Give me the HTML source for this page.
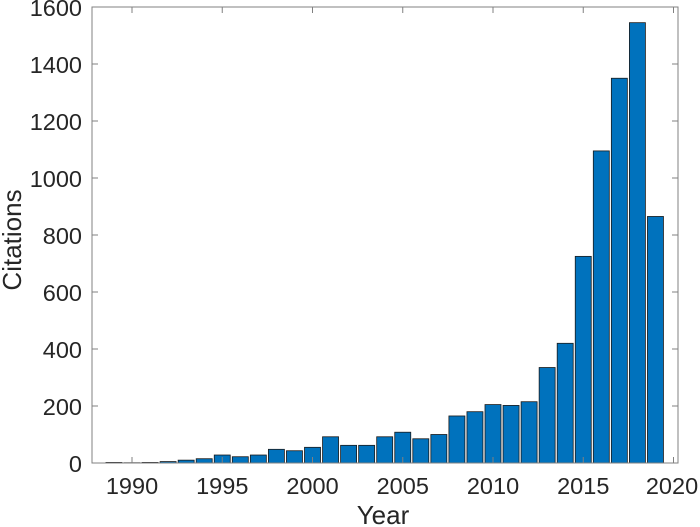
<!DOCTYPE html>
<html><head><meta charset="utf-8"><style>html,body{margin:0;padding:0;background:#fff}svg{display:block}</style></head>
<body>
<svg width="700" height="527" xmlns="http://www.w3.org/2000/svg" font-family="Liberation Sans, sans-serif">
<rect width="700" height="527" fill="#fff"/>
<g fill="#0072BD" stroke="#1a1a1a" stroke-width="0.8">
<rect x="105.95" y="462.43" width="16" height="0.57"/>
<rect x="124" y="462.71" width="16" height="0.29"/>
<rect x="142.05" y="462.43" width="16" height="0.57"/>
<rect x="160.1" y="461.57" width="16" height="1.43"/>
<rect x="178.15" y="460.15" width="16" height="2.85"/>
<rect x="196.2" y="458.72" width="16" height="4.28"/>
<rect x="214.25" y="455.02" width="16" height="7.98"/>
<rect x="232.3" y="456.73" width="16" height="6.27"/>
<rect x="250.35" y="455.02" width="16" height="7.98"/>
<rect x="268.4" y="449.32" width="16" height="13.68"/>
<rect x="286.45" y="450.74" width="16" height="12.26"/>
<rect x="304.5" y="447.32" width="16" height="15.68"/>
<rect x="322.55" y="436.78" width="16" height="26.22"/>
<rect x="340.6" y="445.33" width="16" height="17.67"/>
<rect x="358.65" y="445.33" width="16" height="17.67"/>
<rect x="376.7" y="436.78" width="16" height="26.22"/>
<rect x="394.75" y="432.22" width="16" height="30.78"/>
<rect x="412.8" y="438.77" width="16" height="24.23"/>
<rect x="430.85" y="434.5" width="16" height="28.5"/>
<rect x="448.9" y="415.97" width="16" height="47.03"/>
<rect x="466.95" y="411.7" width="16" height="51.3"/>
<rect x="485" y="404.57" width="16" height="58.43"/>
<rect x="503.05" y="405.43" width="16" height="57.57"/>
<rect x="521.1" y="401.72" width="16" height="61.28"/>
<rect x="539.15" y="367.52" width="16" height="95.48"/>
<rect x="557.2" y="343.3" width="16" height="119.7"/>
<rect x="575.25" y="256.37" width="16" height="206.63"/>
<rect x="593.3" y="150.92" width="16" height="312.08"/>
<rect x="611.35" y="78.25" width="16" height="384.75"/>
<rect x="629.4" y="22.67" width="16" height="440.33"/>
<rect x="647.45" y="216.47" width="16" height="246.53"/>
</g>
<g stroke="#808080" stroke-width="1" fill="none">
<rect x="92" y="7" width="586" height="456"/>
<path d="M92 406h6M92 349h6M92 292h6M92 235h6M92 178h6M92 121h6M92 64h6M672 406h6M672 349h6M672 292h6M672 235h6M672 178h6M672 121h6M672 64h6"/>
<path d="M132 463v-6M222.25 463v-6M312.5 463v-6M402.75 463v-6M493 463v-6M583.25 463v-6M673.5 463v-6M132 7v6M222.25 7v6M312.5 7v6M402.75 7v6M493 7v6M583.25 7v6M673.5 7v6"/>
</g>
<g font-size="23.5" fill="#262626" text-anchor="end">
<text x="82" y="472">0</text>
<text x="82" y="415">200</text>
<text x="82" y="358">400</text>
<text x="82" y="301">600</text>
<text x="82" y="244">800</text>
<text x="82" y="187">1000</text>
<text x="82" y="130">1200</text>
<text x="82" y="73">1400</text>
<text x="82" y="16">1600</text>
</g>
<g font-size="23.5" fill="#262626" text-anchor="middle">
<text x="132" y="494">1990</text>
<text x="222.25" y="494">1995</text>
<text x="312.5" y="494">2000</text>
<text x="402.75" y="494">2005</text>
<text x="493" y="494">2010</text>
<text x="583.25" y="494">2015</text>
<text x="672" y="494">2020</text>
</g>
<text x="383" y="524" font-size="26" text-anchor="middle" fill="#262626">Year</text>
<text transform="translate(21,240) rotate(-90)" font-size="26" text-anchor="middle" fill="#262626">Citations</text>
</svg>
</body></html>
